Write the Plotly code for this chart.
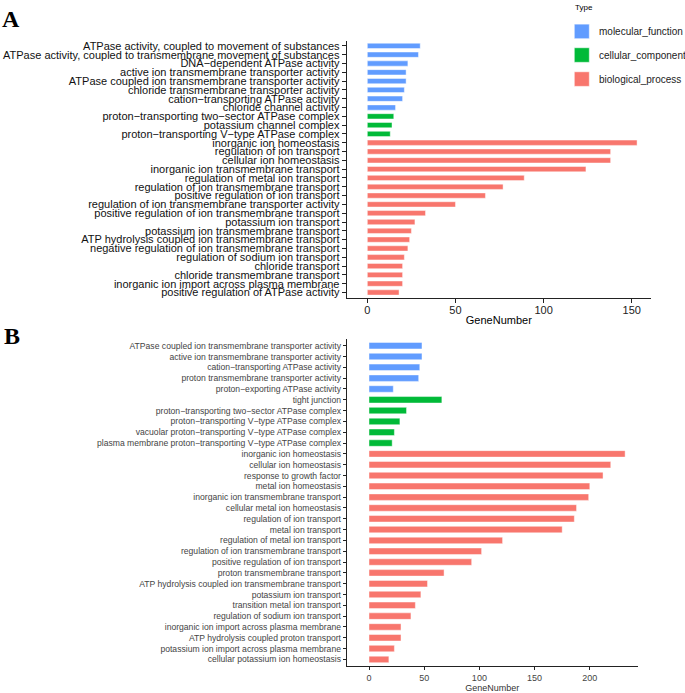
import plotly.graph_objects as go

W, H = 685, 693

# ---------------- data ----------------
type_names = ["molecular_function", "cellular_component", "biological_process"]
type_colors = ["#619CFF", "#00BA38", "#F8766D"]

A_terms = [
    "ATPase activity, coupled to movement of substances",
    "ATPase activity, coupled to transmembrane movement of substances",
    "DNA−dependent ATPase activity",
    "active ion transmembrane transporter activity",
    "ATPase coupled ion transmembrane transporter activity",
    "chloride transmembrane transporter activity",
    "cation−transporting ATPase activity",
    "chloride channel activity",
    "proton−transporting two−sector ATPase complex",
    "potassium channel complex",
    "proton−transporting V−type ATPase complex",
    "inorganic ion homeostasis",
    "regulation of ion transport",
    "cellular ion homeostasis",
    "inorganic ion transmembrane transport",
    "regulation of metal ion transport",
    "regulation of ion transmembrane transport",
    "positive regulation of ion transport",
    "regulation of ion transmembrane transporter activity",
    "positive regulation of ion transmembrane transport",
    "potassium ion transport",
    "potassium ion transmembrane transport",
    "ATP hydrolysis coupled ion transmembrane transport",
    "negative regulation of ion transmembrane transport",
    "regulation of sodium ion transport",
    "chloride transport",
    "chloride transmembrane transport",
    "inorganic ion import across plasma membrane",
    "positive regulation of ATPase activity",
]
A_counts = [30, 29, 23, 22, 22, 21, 20, 16, 15, 14, 13,
            153, 138, 138, 124, 89, 77, 67, 50, 33, 27, 25, 24, 23, 21, 20, 20, 20, 18]
A_types = (["molecular_function"] * 8 + ["cellular_component"] * 3 +
           ["biological_process"] * 18)

B_terms = [
    "ATPase coupled ion transmembrane transporter activity",
    "active ion transmembrane transporter activity",
    "cation−transporting ATPase activity",
    "proton transmembrane transporter activity",
    "proton−exporting ATPase activity",
    "tight junction",
    "proton−transporting two−sector ATPase complex",
    "proton−transporting V−type ATPase complex",
    "vacuolar proton−transporting V−type ATPase complex",
    "plasma membrane proton−transporting V−type ATPase complex",
    "inorganic ion homeostasis",
    "cellular ion homeostasis",
    "response to growth factor",
    "metal ion homeostasis",
    "inorganic ion transmembrane transport",
    "cellular metal ion homeostasis",
    "regulation of ion transport",
    "metal ion transport",
    "regulation of metal ion transport",
    "regulation of ion transmembrane transport",
    "positive regulation of ion transport",
    "proton transmembrane transport",
    "ATP hydrolysis coupled ion transmembrane transport",
    "potassium ion transport",
    "transition metal ion transport",
    "regulation of sodium ion transport",
    "inorganic ion import across plasma membrane",
    "ATP hydrolysis coupled proton transport",
    "potassium ion import across plasma membrane",
    "cellular potassium ion homeostasis",
]
B_counts = [48, 48, 46, 45, 22, 66, 34, 28, 23, 21,
            232, 219, 212, 200, 199, 188, 186, 175, 121, 102, 93, 68,
            53, 47, 42, 38, 29, 29, 23, 18]
B_types = (["molecular_function"] * 5 + ["cellular_component"] * 5 +
           ["biological_process"] * 20)

x_ticks_A = [0, 50, 100, 150]
x_ticks_B = [0, 50, 100, 150, 200]

# ---------------- figure ----------------
fig = go.Figure()

def add_panel(terms, counts, types, xa, ya):
    for tname, col in zip(type_names, type_colors):
        ys = [t for t, ty in zip(terms, types) if ty == tname]
        xs = [c for c, ty in zip(counts, types) if ty == tname]
        fig.add_trace(go.Bar(
            x=xs, y=ys, orientation="h", width=0.6,
            marker=dict(color=col, line=dict(color="rgba(255,255,255,0.45)", width=1)),
            xaxis=xa, yaxis=ya, showlegend=False, name=tname,
        ))

add_panel(A_terms, A_counts, A_types, "x", "y")
add_panel(B_terms, B_counts, B_types, "x2", "y2")

def px_x(p):
    return p / W

def px_y(p):
    return 1 - p / H

font_family = "Liberation Sans, Arial, sans-serif"
axis_common = dict(showgrid=False, zeroline=False, showline=True, linecolor="#222",
                   linewidth=1, ticks="outside", tickcolor="#222", tickwidth=1)

fig.update_layout(
    width=W, height=H,
    margin=dict(l=0, r=0, t=0, b=0),
    paper_bgcolor="white", plot_bgcolor="white",
    barmode="overlay",
    font=dict(family=font_family, color="black"),
    xaxis=dict(domain=[px_x(346.7), px_x(651)], range=[-11.7, 160.9],
               tickvals=x_ticks_A, ticklen=4, anchor="y", ticklabelstandoff=-2,
               tickfont=dict(size=11, color="#222"),
               title=dict(text="GeneNumber", font=dict(size=11), standoff=1),
               **axis_common),
    yaxis=dict(domain=[px_y(297.6), px_y(39.7)], type="category",
               categoryorder="array", categoryarray=A_terms,
               tickmode="array", tickvals=A_terms, ticktext=A_terms,
               range=[len(A_terms) - 0.4, -0.6], ticklen=4, anchor="x",
               tickfont=dict(size=11, color="#111"), **axis_common),
    xaxis2=dict(domain=[px_x(346.7), px_x(637.7)], range=[-20.2, 243.4],
                tickvals=x_ticks_B, ticklen=3, anchor="y2",
                tickfont=dict(size=9, color="#444"),
                title=dict(text="GeneNumber", font=dict(size=9, color="#333"), standoff=2),
                **axis_common),
    yaxis2=dict(domain=[px_y(666.8), px_y(339.2)], type="category",
                categoryorder="array", categoryarray=B_terms,
                tickmode="array", tickvals=B_terms, ticktext=B_terms,
                range=[len(B_terms) - 0.4, -0.6], ticklen=3, anchor="x2",
                tickfont=dict(size=8.6, color="#444"), **axis_common),
)

# panel letters
serif = "Liberation Serif, Times New Roman, serif"
fig.add_annotation(text="<b>A</b>", x=px_x(11), y=px_y(18), xref="paper", yref="paper",
                   xanchor="center", yanchor="middle", showarrow=False,
                   font=dict(family=serif, size=24, color="black"))
fig.add_annotation(text="<b>B</b>", x=px_x(12), y=px_y(336), xref="paper", yref="paper",
                   xanchor="center", yanchor="middle", showarrow=False,
                   font=dict(family=serif, size=24, color="black"))

# legend (drawn manually)
fig.add_annotation(text="Type", x=px_x(572.5), y=px_y(7), xref="paper", yref="paper",
                   xanchor="left", yanchor="middle", showarrow=False,
                   font=dict(size=8, color="black"))
leg_centers = [30.5, 54.2, 78.3]
for (tname, col, cy) in zip(type_names, type_colors, leg_centers):
    fig.add_shape(type="rect", xref="paper", yref="paper",
                  x0=px_x(574.3), x1=px_x(589.3), y0=px_y(cy + 7.3), y1=px_y(cy - 7.3),
                  fillcolor=col, line=dict(color="rgba(255,255,255,0.5)", width=1))
    fig.add_annotation(text=tname, x=px_x(596.5), y=px_y(cy), xref="paper", yref="paper",
                       xanchor="left", yanchor="middle", showarrow=False,
                       font=dict(size=10, color="#222"))

# remove the default 8px page margin so the figure fills the window exactly
fig.write_html("out.html",
               config={"displayModeBar": False},
               post_script="document.body.style.margin='0';document.body.style.padding='0';")
